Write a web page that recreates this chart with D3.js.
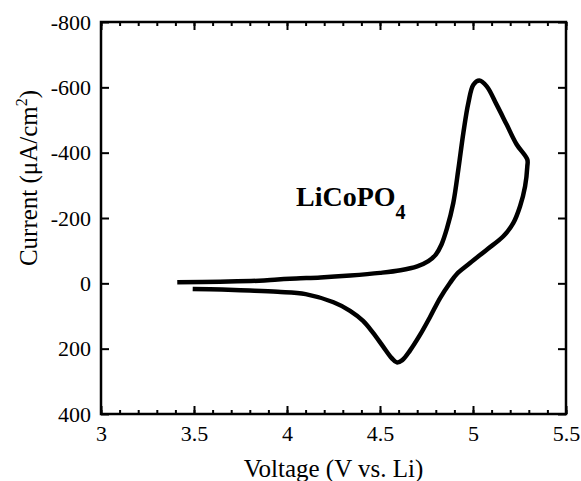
<!DOCTYPE html>
<html>
<head>
<meta charset="utf-8">
<script src="https://cdn.jsdelivr.net/npm/d3@7"></script>
<style>
  body { margin: 0; background: #fff; }
  text { font-family: "Liberation Serif", "Times New Roman", serif; }
</style>
</head>
<body>
<script>
// CV sweep: forward (oxidation) then reverse (reduction)
var forwardV = [3.41, 3.64, 3.85, 3.95, 4.05, 4.18, 4.34, 4.50, 4.61, 4.70, 4.76, 4.80, 4.83, 4.86, 4.894, 4.921, 4.948, 4.975, 5.002, 5.034, 5.074, 5.127, 5.181, 5.235, 5.292];
var forwardI = [-3, -5, -8, -12, -15, -18, -24, -32, -40, -52, -68, -88, -118, -168, -246, -348, -460, -552, -608, -621, -603, -547, -486, -425, -379];
var reverseV = [5.292, 5.28, 5.253, 5.217, 5.163, 5.074, 4.984, 4.912, 4.876, 4.823, 4.769, 4.715, 4.661, 4.62, 4.59, 4.563, 4.516, 4.462, 4.409, 4.339, 4.25, 4.10, 3.95, 3.80, 3.65, 3.493];
var reverseI = [-358, -297, -236, -185, -144, -103, -62, -28, -1, 45, 103, 158, 206, 235, 242, 229, 193, 151, 115, 84, 58, 33, 26, 22, 19, 17];

var xTicks = [3, 3.5, 4, 4.5, 5, 5.5];
var yTicks = [-800, -600, -400, -200, 0, 200, 400];

var margin = { top: 22, right: 15, bottom: 67, left: 101 },
    width = 581 - margin.left - margin.right,
    height = 481 - margin.top - margin.bottom;

var svg = d3.select("body").append("svg")
    .attr("width", 581)
    .attr("height", 481);

var g = svg.append("g")
    .attr("transform", "translate(" + margin.left + "," + margin.top + ")");

var x = d3.scaleLinear().domain([3, 5.5]).range([0, width]);
var y = d3.scaleLinear().domain([-800, 400]).range([0, height]);

var minorX = d3.range(30, 56).map(function (d) { return d / 10; });

// minor ticks on bottom and top
g.append("g")
    .attr("transform", "translate(0," + height + ")")
    .call(d3.axisBottom(x).tickValues(minorX).tickSizeInner(-4).tickSizeOuter(0).tickFormat(""))
    .call(a => a.select(".domain").remove());
g.append("g")
    .call(d3.axisTop(x).tickValues(minorX).tickSizeInner(-4).tickSizeOuter(0).tickFormat(""))
    .call(a => a.select(".domain").remove());

// major ticks
g.append("g")
    .attr("transform", "translate(0," + height + ")")
    .call(d3.axisBottom(x).tickValues(xTicks).tickSizeInner(-8).tickSizeOuter(0).tickPadding(11)
        .tickFormat(function (d) { return String(d); }))
    .call(a => a.select(".domain").remove());
g.append("g")
    .call(d3.axisTop(x).tickValues(xTicks).tickSizeInner(-8).tickSizeOuter(0).tickFormat(""))
    .call(a => a.select(".domain").remove());
g.append("g")
    .call(d3.axisLeft(y).tickValues(yTicks).tickSizeInner(-8).tickSizeOuter(0).tickPadding(10)
        .tickFormat(function (d) { return String(d); }))
    .call(a => a.select(".domain").remove());
g.append("g")
    .attr("transform", "translate(" + width + ",0)")
    .call(d3.axisRight(y).tickValues(yTicks).tickSizeInner(-8).tickSizeOuter(0).tickFormat(""))
    .call(a => a.select(".domain").remove());

g.selectAll(".tick line").attr("stroke", "#000").attr("stroke-width", 2);
g.selectAll(".tick text").attr("font-size", "22px").attr("fill", "#000")
    .style("font-family", "'Liberation Serif', serif");

// frame
g.append("rect")
    .attr("width", width)
    .attr("height", height)
    .attr("fill", "none")
    .attr("stroke", "#000")
    .attr("stroke-width", 2.5);

// the CV loop
var pts = forwardV.map(function (v, i) { return [v, forwardI[i]]; })
    .concat(reverseV.map(function (v, i) { return [v, reverseI[i]]; }));

var line = d3.line()
    .x(function (d) { return x(d[0]); })
    .y(function (d) { return y(d[1]); })
    .curve(d3.curveCatmullRom.alpha(0.5));

g.append("path")
    .datum(pts)
    .attr("fill", "none")
    .attr("stroke", "#000")
    .attr("stroke-width", 4.5)
    .attr("stroke-linejoin", "round")
    .attr("d", line);

// compound label
var lab = svg.append("text")
    .attr("x", 296)
    .attr("y", 206)
    .attr("font-size", "28px")
    .attr("font-weight", "bold");
lab.append("tspan").text("LiCoPO");
lab.append("tspan").attr("font-size", "20px").attr("dy", 13).text("4");

// axis titles
svg.append("text")
    .attr("x", margin.left + width / 2)
    .attr("y", 477)
    .attr("text-anchor", "middle")
    .attr("font-size", "25px")
    .text("Voltage (V vs. Li)");

var yl = svg.append("text")
    .attr("transform", "translate(37,178) rotate(-90)")
    .attr("text-anchor", "middle")
    .attr("font-size", "25px");
yl.append("tspan").text("Current (\u03bcA/cm");
yl.append("tspan").attr("font-size", "16px").attr("dy", -10).text("2");
yl.append("tspan").attr("dy", 10).text(")");
</script>
</body>
</html>
